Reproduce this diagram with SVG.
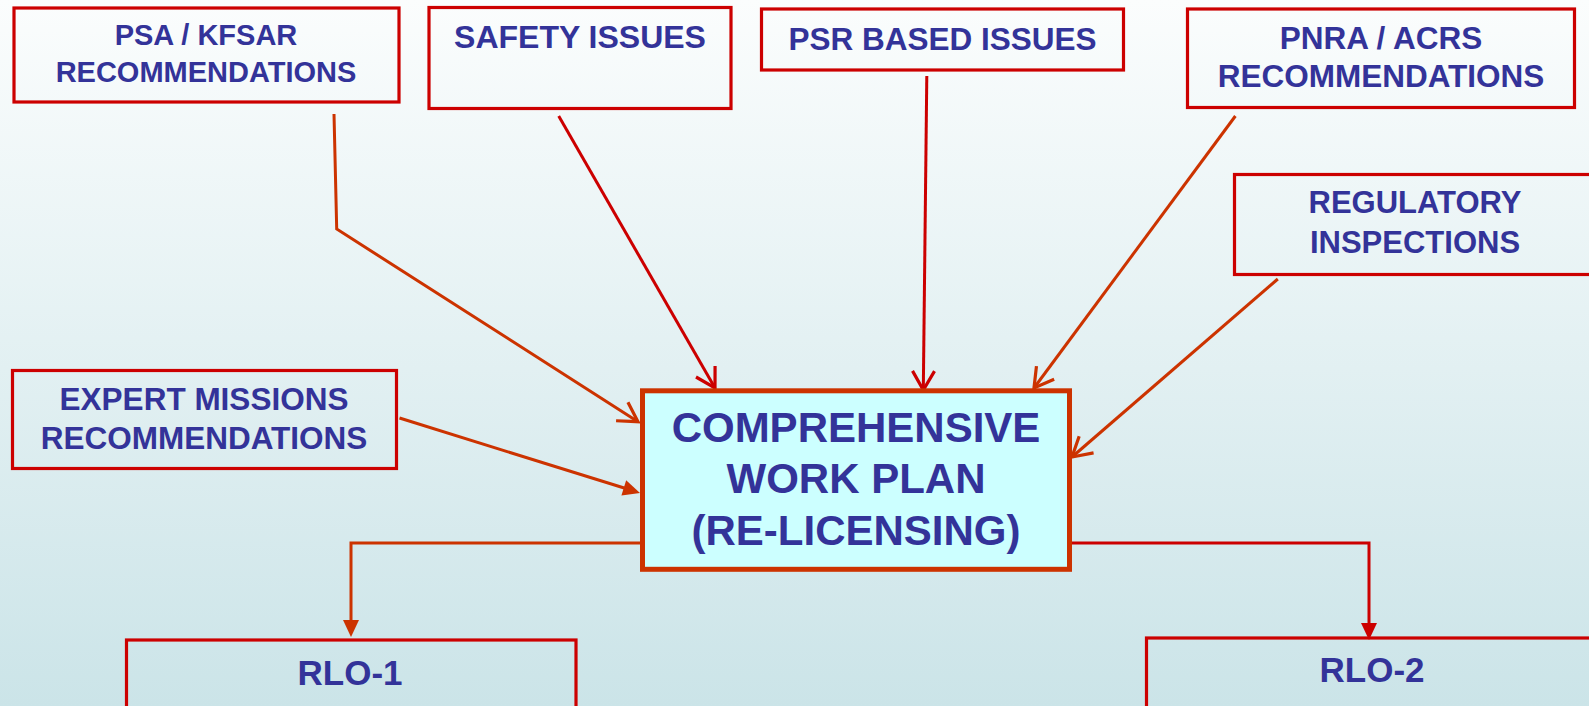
<svg xmlns="http://www.w3.org/2000/svg" width="1589" height="706" viewBox="0 0 1589 706">
<defs>
<linearGradient id="bg" x1="0" y1="0" x2="0" y2="1">
<stop offset="0" stop-color="#fbfdfd"/>
<stop offset="1" stop-color="#cbe4e8"/>
</linearGradient>
<marker id="openRed" markerUnits="userSpaceOnUse" markerWidth="40" markerHeight="40" refX="0" refY="0" orient="auto" overflow="visible">
<path d="M-19,-11 L0,0 L-19,11" fill="none" stroke="#cc0000" stroke-width="3.2"/>
</marker>
<marker id="openOr" markerUnits="userSpaceOnUse" markerWidth="40" markerHeight="40" refX="0" refY="0" orient="auto" overflow="visible">
<path d="M-19,-11 L0,0 L-19,11" fill="none" stroke="#cc3300" stroke-width="3.2"/>
</marker>
<marker id="fillOr" markerUnits="userSpaceOnUse" markerWidth="40" markerHeight="40" refX="0" refY="0" orient="auto" overflow="visible">
<path d="M-8,-8 L9,0 L-8,8 Z" fill="#cc3300"/>
</marker>
<marker id="fillRed" markerUnits="userSpaceOnUse" markerWidth="40" markerHeight="40" refX="0" refY="0" orient="auto" overflow="visible">
<path d="M-8,-8 L9,0 L-8,8 Z" fill="#cc0000"/>
</marker>
</defs>
<style>
.box{fill:none;stroke:#cc0000;stroke-width:3.2}
.main{fill:#ccffff;stroke:#cc3300;stroke-width:5}
text{font-family:"Liberation Sans",Arial,sans-serif;font-weight:bold;fill:#333399;text-anchor:middle}
.c{fill:none;stroke-width:3}
.r{stroke:#cc0000}
.o{stroke:#cc3300}
</style>
<rect x="0" y="0" width="1589" height="706" fill="url(#bg)"/>
<g id="connectors">
<polyline class="c o" points="334,114 336.7,229 638,421.7" marker-end="url(#openOr)"/>
<line class="c r" x1="558.7" y1="116" x2="715" y2="388" marker-end="url(#openRed)"/>
<line class="c r" x1="926.8" y1="76" x2="923.3" y2="390" marker-end="url(#openRed)"/>
<line class="c o" x1="1235.4" y1="116" x2="1034" y2="388" marker-end="url(#openOr)"/>
<line class="c o" x1="1277.8" y1="279" x2="1072" y2="457" marker-end="url(#openOr)"/>
<line class="c o" x1="399.5" y1="418" x2="631.4" y2="490.3" stroke-width="3.8" marker-end="url(#fillOr)"/>
<polyline class="c o" points="640,543 351,543 351,628" stroke-width="3.5" marker-end="url(#fillOr)"/>
<polyline class="c r" points="1072,543 1369,543 1369,631" stroke-width="3.5" marker-end="url(#fillRed)"/>
</g>
<g id="psa">
<rect class="box" x="14" y="8" width="385" height="94"/>
<text x="206" y="45" font-size="29">PSA / KFSAR</text>
<text x="206" y="82" font-size="29">RECOMMENDATIONS</text>
</g>
<g id="safety">
<rect class="box" x="429" y="7.5" width="302" height="101"/>
<text x="580" y="48" font-size="32">SAFETY ISSUES</text>
</g>
<g id="psr">
<rect class="box" x="761.5" y="9" width="362" height="61"/>
<text x="942.5" y="50" font-size="31.5">PSR BASED ISSUES</text>
</g>
<g id="pnra">
<rect class="box" x="1187.5" y="9" width="387" height="98.5"/>
<text x="1381" y="49" font-size="31.5">PNRA / ACRS</text>
<text x="1381" y="87" font-size="31.5">RECOMMENDATIONS</text>
</g>
<g id="regulatory">
<rect class="box" x="1234.5" y="174.5" width="400" height="100"/>
<text x="1415" y="213" font-size="31">REGULATORY</text>
<text x="1415" y="253" font-size="31">INSPECTIONS</text>
</g>
<g id="expert">
<rect class="box" x="12.5" y="370.5" width="384" height="98"/>
<text x="204" y="410" font-size="31.5">EXPERT MISSIONS</text>
<text x="204" y="449" font-size="31.5">RECOMMENDATIONS</text>
</g>
<g id="workplan">
<rect class="main" x="642.5" y="390.8" width="427" height="178.5"/>
<text x="856" y="441.5" font-size="42">COMPREHENSIVE</text>
<text x="856" y="493" font-size="42">WORK PLAN</text>
<text x="856" y="545" font-size="42">(RE-LICENSING)</text>
</g>
<g id="rlo1">
<rect class="box" x="126.5" y="640" width="449.5" height="100"/>
<text x="350" y="685" font-size="35">RLO-1</text>
</g>
<g id="rlo2">
<rect class="box" x="1146.5" y="638" width="500" height="100"/>
<text x="1372" y="682" font-size="35">RLO-2</text>
</g>
</svg>
